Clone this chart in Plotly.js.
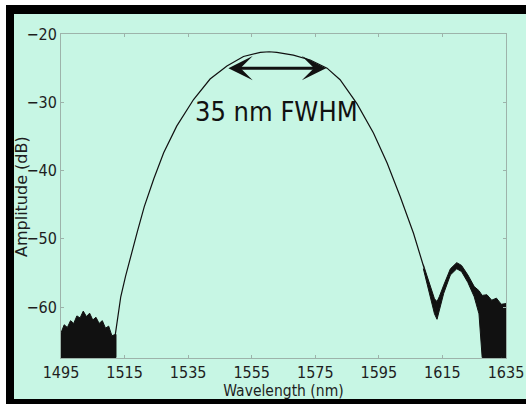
<!DOCTYPE html>
<html>
<head>
<meta charset="utf-8">
<script src="https://cdn.plot.ly/plotly-3.0.1.min.js"></script>
<style>
  html, body { margin: 0; padding: 0; background: #ffffff; width: 526px; height: 404px; overflow: hidden; }
  #wrap { position: relative; width: 526px; height: 404px; overflow: hidden; background: #ffffff; }
  #chart { position: absolute; left: 0; top: 0; width: 526px; height: 404px; }
  .frame { position: absolute; pointer-events: none; z-index: 5; }
</style>
</head>
<body>
<div id="wrap">
  <div id="chart"></div>
  <div class="frame" style="left:0;top:0;width:526px;height:5px;background:#fff;"></div>
  <div class="frame" style="left:0;top:0;width:6px;height:404px;background:#fff;"></div>
  <div class="frame" style="left:6px;top:5px;width:520px;height:9px;background:#000;"></div>
  <div class="frame" style="left:6px;top:5px;width:8px;height:399px;background:#000;"></div>
  <div class="frame" style="left:6px;top:399px;width:520px;height:5px;background:#000;"></div>
  <div class="frame" style="left:522px;top:14px;width:4px;height:346px;background:#c7f6e4;"></div>
</div>
<script>
// Main spectrum (wavelength in nm, amplitude in dB)
const curveWl = [1512.0, 1512.8, 1513.8, 1515.3, 1517.2, 1519.0, 1521.2, 1524.2, 1527.3, 1531.4,
                 1536.7, 1541.9, 1547.2, 1552.4, 1557.7, 1560.5, 1562.9, 1568.1, 1573.4, 1578.7,
                 1582.8, 1588.1, 1593.3, 1597.6, 1601.7, 1605.9, 1609.1];
const curveDb = [-64.3, -61.5, -58.5, -55.5, -52.0, -49.0, -45.3, -41.2, -37.4, -33.5,
                 -29.6, -26.6, -24.7, -23.3, -22.7, -22.6, -22.7, -23.1, -23.8, -25.0,
                 -26.7, -30.2, -34.5, -38.9, -43.8, -49.2, -54.1];

// Noisy floor on the short-wavelength side: upper / lower envelopes
const leftWl    = [1495.0, 1496.0, 1497.0, 1498.0, 1499.0, 1500.0, 1501.0, 1502.0, 1503.0, 1504.0,
                   1505.0, 1506.0, 1507.0, 1508.0, 1509.0, 1510.0, 1511.0, 1512.3];
const leftUpper = [-63.8, -62.6, -63.0, -62.0, -62.4, -61.3, -61.6, -60.6, -61.4, -60.9,
                   -61.9, -61.5, -62.4, -62.0, -63.1, -62.8, -64.2, -64.0];
const leftLower = [-67.4, -67.4, -67.4, -67.4, -67.4, -67.4, -67.4, -67.4, -67.4, -67.4,
                   -67.4, -67.4, -67.4, -67.4, -67.4, -67.4, -67.4, -67.4];

// Noisy band on the long-wavelength side: upper / lower envelopes
const rightWl    = [1609.0, 1610.5, 1611.5, 1612.5, 1613.3, 1614.0, 1615.4, 1617.5, 1619.5, 1621.0,
                    1623.0, 1625.0, 1626.5, 1627.5, 1629.0, 1630.5, 1632.0, 1633.5, 1635.0];
const rightUpper = [-53.8, -56.0, -57.5, -58.8, -59.2, -58.5, -56.8, -54.4, -53.5, -53.9,
                    -55.3, -57.0, -57.6, -58.3, -58.2, -59.0, -58.7, -59.6, -59.5];
const rightLower = [-54.4, -57.0, -59.0, -61.0, -61.8, -60.5, -58.0, -55.3, -54.4, -54.8,
                    -56.4, -58.5, -61.0, -67.4, -67.4, -67.4, -67.4, -67.4, -67.4];

// FWHM marker
const fwhmStart = 1547.2, fwhmEnd = 1578.4, fwhmLevel = -25.0;
const fwhmLabel = '35 nm FWHM';

const xTicks = [1495, 1515, 1535, 1555, 1575, 1595, 1615, 1635];
const yTicks = [-20, -30, -40, -50, -60];

const ink = '#111111';
const mint = '#c7f6e4';
const axisGray = '#9db3aa';
const condensed = 'DejaVu Sans Condensed, DejaVu Sans, sans-serif';
const tickFont = {family: condensed, size: 16, color: '#1e1e1e'};

// closed outline of a noise band: upper envelope forward, lower envelope back
function band(wl, upper, lower) {
  return {x: wl.concat(wl.slice().reverse()), y: upper.concat(lower.slice().reverse())};
}
const leftBand = band(leftWl, leftUpper, leftLower);
const rightBand = band(rightWl, rightUpper, rightLower);

const traces = [
  {x: leftBand.x, y: leftBand.y, mode: 'lines', fill: 'toself', fillcolor: ink,
   line: {color: ink, width: 1}, showlegend: false},
  {x: rightBand.x, y: rightBand.y, mode: 'lines', fill: 'toself', fillcolor: ink,
   line: {color: ink, width: 1}, showlegend: false},
  {x: curveWl, y: curveDb, mode: 'lines', line: {color: ink, width: 1.2}, showlegend: false}
];

const layout = {
  width: 526, height: 404,
  margin: {l: 61, r: 20, t: 34, b: 46, pad: 0},
  paper_bgcolor: mint,
  plot_bgcolor: mint,
  showlegend: false,
  xaxis: {
    range: [1495, 1635], tickvals: xTicks, ticktext: xTicks.map(String),
    showgrid: false, zeroline: false,
    showline: true, linecolor: axisGray, linewidth: 1, mirror: 'ticks',
    ticks: 'inside', ticklen: 3, tickcolor: axisGray, tickwidth: 1,
    tickfont: tickFont, ticklabeloverflow: 'allow',
    title: {text: 'Wavelength (nm)', font: {family: condensed, size: 15.5, color: '#1e1e1e'}, standoff: 2}
  },
  yaxis: {
    range: [-67.47, -20], tickvals: yTicks,
    showgrid: false, zeroline: false,
    showline: true, linecolor: axisGray, linewidth: 1, mirror: 'ticks',
    ticks: 'inside', ticklen: 3, tickcolor: axisGray, tickwidth: 1,
    tickfont: tickFont
  },
  annotations: [
    {x: fwhmEnd, y: fwhmLevel, ax: fwhmStart, ay: fwhmLevel, axref: 'x', ayref: 'y', xref: 'x', yref: 'y',
     text: '', showarrow: true, arrowside: 'end+start',
     arrowhead: 3, startarrowhead: 3, arrowsize: 1.35, startarrowsize: 1.35, arrowwidth: 3, arrowcolor: ink,
     standoff: 0, startstandoff: 0},
    {x: (fwhmStart + fwhmEnd) / 2, y: -31.4, xref: 'x', yref: 'y', text: fwhmLabel, showarrow: false,
     xanchor: 'center', yanchor: 'middle',
     font: {family: condensed, size: 27, color: ink}},
    {x: -0.0899, y: 0.5, xref: 'paper', yref: 'paper', text: 'Amplitude (dB)', showarrow: false,
     textangle: -90, xanchor: 'center', yanchor: 'middle',
     font: {family: 'DejaVu Sans, sans-serif', size: 16, color: '#1e1e1e'}}
  ]
};

Plotly.newPlot('chart', traces, layout, {staticPlot: true, displayModeBar: false});
</script>
</body>
</html>
